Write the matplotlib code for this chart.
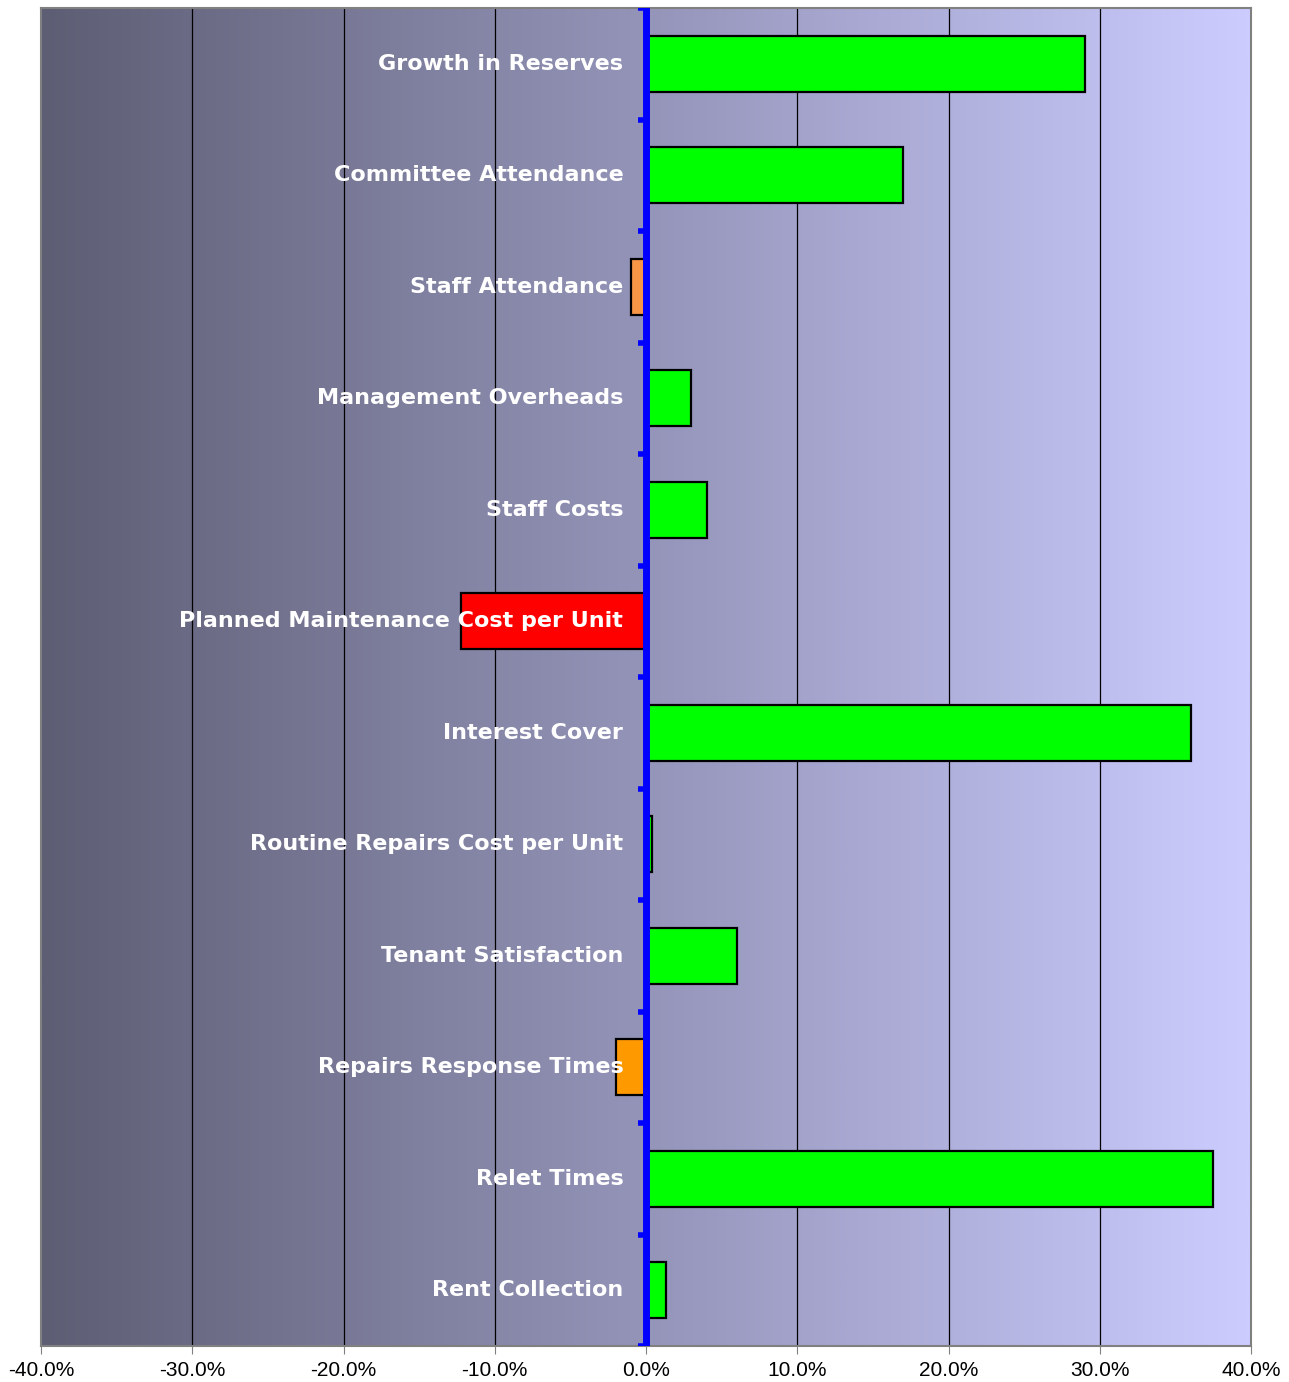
import matplotlib
matplotlib.use("Agg")
import matplotlib.pyplot as plt
import numpy as np
from matplotlib.colors import LinearSegmentedColormap

categories = ["Growth in Reserves", "Committee Attendance", "Staff Attendance",
              "Management Overheads", "Staff Costs", "Planned Maintenance Cost per Unit",
              "Interest Cover", "Routine Repairs Cost per Unit", "Tenant Satisfaction",
              "Repairs Response Times", "Relet Times", "Rent Collection"]
values = [29.0, 17.0, -1.0, 3.0, 4.0, -12.2, 36.0, 0.4, 6.0, -2.0, 37.5, 1.3]
colors = ["#00ff00", "#00ff00", "#f79646", "#00ff00", "#00ff00", "#ff0000",
          "#00ff00", "#00ff00", "#00ff00", "#ff9900", "#00ff00", "#00ff00"]
xticks = [-40, -30, -20, -10, 0, 10, 20, 30, 40]

fig = plt.figure(figsize=(12.89, 13.82), dpi=100)
ax = fig.add_axes([41/1289, 1-1346/1382, 1210/1289, 1338/1382])

n = len(categories)
ax.set_xlim(-40, 40)
ax.set_ylim(n - 0.5, -0.5)

cmap = LinearSegmentedColormap.from_list("bg", ["#5d5d74", "#ccccff"])
grad = np.linspace(0, 1, 512).reshape(1, -1)
ax.imshow(grad, cmap=cmap, aspect="auto", extent=[-40, 40, n - 0.5, -0.5], zorder=0)

for x in [-30, -20, -10, 10, 20, 30]:
    ax.axvline(x, color="black", lw=0.9, zorder=1)

y = np.arange(n)
ax.barh(y, values, height=0.5, color=colors, edgecolor="black", linewidth=1.6, zorder=2)

ax.axvline(0, color="#0000ff", lw=5, zorder=3)
bounds = np.arange(n + 1) - 0.5
ax.hlines(bounds, -0.5, 0, color="#0000ff", lw=4, zorder=3)

for yi, cat in zip(y, categories):
    ax.text(-1.5, yi, cat, ha="right", va="center", color="white",
            fontsize=16, fontweight="bold", family="DejaVu Sans", zorder=4)

ax.set_xticks(xticks)
ax.set_xticklabels([f"{v:.1f}%" for v in xticks], family="Liberation Sans", fontsize=15)
ax.tick_params(axis="x", direction="out", length=6, color="#808080", pad=5)
ax.set_yticks([])
for s in ax.spines.values():
    s.set_color("#808080")
    s.set_linewidth(1.5)

fig.savefig("out.png", dpi=100)
